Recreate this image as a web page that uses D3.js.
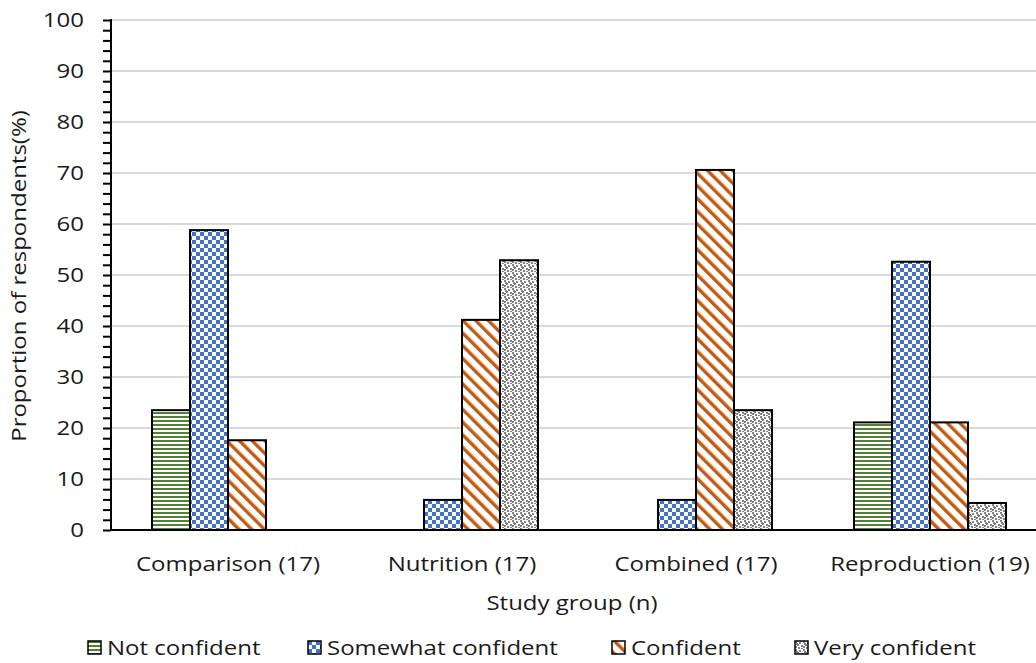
<!DOCTYPE html>
<html>
<head>
<meta charset="utf-8">
<script src="https://cdn.jsdelivr.net/npm/d3@7"></script>
<style>
  body { margin: 0; background: #fff; }
  svg { display: block; font-family: "Open Sans", "Noto Sans", sans-serif; }
</style>
</head>
<body>
<div id="chart"></div>
<script>
// data
var groups = ["Comparison (17)", "Nutrition (17)", "Combined (17)", "Reproduction (19)"]
var levels = ["Not confident", "Somewhat confident", "Confident", "Very confident"]
var notConfident = [23.5, 0, 0, 21.1]
var somewhatConfident = [58.8, 5.9, 5.9, 52.6]
var confident = [17.6, 41.2, 70.6, 21.1]
var veryConfident = [0, 52.9, 23.5, 5.3]
var yTicks = [0, 10, 20, 30, 40, 50, 60, 70, 80, 90, 100]

var series = [notConfident, somewhatConfident, confident, veryConfident]
var data = []
groups.forEach(function(g, i) {
    levels.forEach(function(l, j) {
        data.push({ group: g, level: l, value: series[j][i] })
    })
})

var width = 1036
var height = 663
var margin = ({ top: 20, right: -11, bottom: 133, left: 111 })
var fontSize = 20
var sx = 1.2   // the original text is a bit wider than it is tall

var svg = d3.select("#chart").append("svg")
    .attr("width", width)
    .attr("height", height)

// place a horizontally stretched label
function label(parent, x, y, txt, anchor) {
    return parent.append("text")
        .attr("transform", "translate(" + x + "," + y + ") scale(" + sx + ",1)")
        .attr("text-anchor", anchor || "start")
        .attr("font-size", fontSize)
        .attr("fill", "#1a1a1a")
        .text(txt)
}

// patterns
var defs = svg.append("defs")

var pGreen = defs.append("pattern").attr("id", "p0")
    .attr("patternUnits", "userSpaceOnUse").attr("width", 4).attr("height", 4)
pGreen.append("rect").attr("width", 4).attr("height", 4).attr("fill", "#fff")
pGreen.append("rect").attr("y", 0).attr("width", 4).attr("height", 2).attr("fill", "#548235")

var pBlue = defs.append("pattern").attr("id", "p1")
    .attr("patternUnits", "userSpaceOnUse").attr("width", 8).attr("height", 8)
pBlue.append("rect").attr("width", 8).attr("height", 8).attr("fill", "#fff")
pBlue.append("rect").attr("width", 4).attr("height", 4).attr("fill", "#4472c4")
pBlue.append("rect").attr("x", 4).attr("y", 4).attr("width", 4).attr("height", 4).attr("fill", "#4472c4")

var pOrange = defs.append("pattern").attr("id", "p2")
    .attr("patternUnits", "userSpaceOnUse").attr("width", 9).attr("height", 9)
    .attr("patternTransform", "rotate(-45)")
pOrange.append("rect").attr("width", 9).attr("height", 9).attr("fill", "#fff")
pOrange.append("rect").attr("width", 3.4).attr("height", 9).attr("fill", "#c55a11")

var pGrey = defs.append("pattern").attr("id", "p3")
    .attr("patternUnits", "userSpaceOnUse").attr("width", 8).attr("height", 8)
pGrey.append("rect").attr("width", 8).attr("height", 8).attr("fill", "#fff")
var dots = [[0, 0], [4, 1], [2, 3], [6, 4], [0, 5], [3, 6], [6, 7], [1, 2]]
dots.forEach(function(d) {
    pGrey.append("rect").attr("x", d[0]).attr("y", d[1]).attr("width", 2).attr("height", 2).attr("fill", "#808080")
})

var plotH = height - margin.top - margin.bottom

var x0 = d3.scaleBand()
    .domain(groups)
    .range([margin.left, margin.left + 4 * 234])

var x1 = d3.scaleBand()
    .domain(levels)
    .range([41, 193])

var y = d3.scaleLinear()
    .domain([0, 100])
    .range([margin.top + plotH, margin.top])

// gridlines
svg.append("g")
    .selectAll("line")
    .data(yTicks.filter(function(d) { return d > 0 }))
    .enter()
    .append("line")
    .attr("x1", margin.left)
    .attr("x2", width)
    .attr("y1", d => y(d))
    .attr("y2", d => y(d))
    .attr("stroke", "#d9d9d9")
    .attr("stroke-width", 2)

// bars
svg.append("g")
    .selectAll("rect")
    .data(data.filter(function(d) { return d.value > 0 }))
    .enter()
    .append("rect")
    .attr("x", d => x0(d.group) + x1(d.level))
    .attr("y", d => y(d.value))
    .attr("width", x1.bandwidth())
    .attr("height", d => y(0) - y(d.value))
    .attr("fill", d => "url(#p" + levels.indexOf(d.level) + ")")
    .attr("stroke", "#000")
    .attr("stroke-width", 2)

// y axis with minor ticks
var minor = d3.range(0, 101, 2)
svg.append("g")
    .attr("transform", "translate(" + margin.left + ",0)")
    .call(d3.axisLeft(y).tickValues(minor).tickSize(8).tickFormat(""))
    .call(g => g.selectAll("line").attr("stroke", "#000").attr("stroke-width", 2))
    .call(g => g.select(".domain").remove())

svg.append("line")
    .attr("x1", margin.left).attr("x2", margin.left)
    .attr("y1", y(100) - 1).attr("y2", y(0) + 1)
    .attr("stroke", "#000").attr("stroke-width", 2)

var yLab = svg.append("g")
yTicks.forEach(function(d) {
    label(yLab, 84, y(d) + 7, d, "end")
})

// baseline
svg.append("line")
    .attr("x1", margin.left - 1).attr("x2", width)
    .attr("y1", y(0)).attr("y2", y(0))
    .attr("stroke", "#000").attr("stroke-width", 2)

// category labels
var xLab = svg.append("g")
groups.forEach(function(d) {
    label(xLab, x0(d) + x0.bandwidth() / 2, 571, d, "middle")
})

// axis titles
label(svg, 572, 610, "Study group (n)", "middle")

svg.append("text")
    .attr("transform", "translate(26,276) rotate(-90) scale(" + sx + ",1)")
    .attr("text-anchor", "middle")
    .attr("font-size", fontSize)
    .attr("fill", "#1a1a1a")
    .text("Proportion of respondents(%)")

// legend
var legendX = [88, 308, 612, 795]
var legend = svg.append("g")
    .selectAll("g")
    .data(levels)
    .enter()
    .append("g")
    .attr("transform", (d, i) => "translate(" + legendX[i] + ",641)")

legend.append("rect")
    .attr("width", 13).attr("height", 13)
    .attr("fill", (d, i) => "url(#p" + i + ")")
    .attr("stroke", "#000").attr("stroke-width", 1.5)

legend.each(function(d) {
    label(d3.select(this), 19, 14, d)
})
</script>
</body>
</html>
